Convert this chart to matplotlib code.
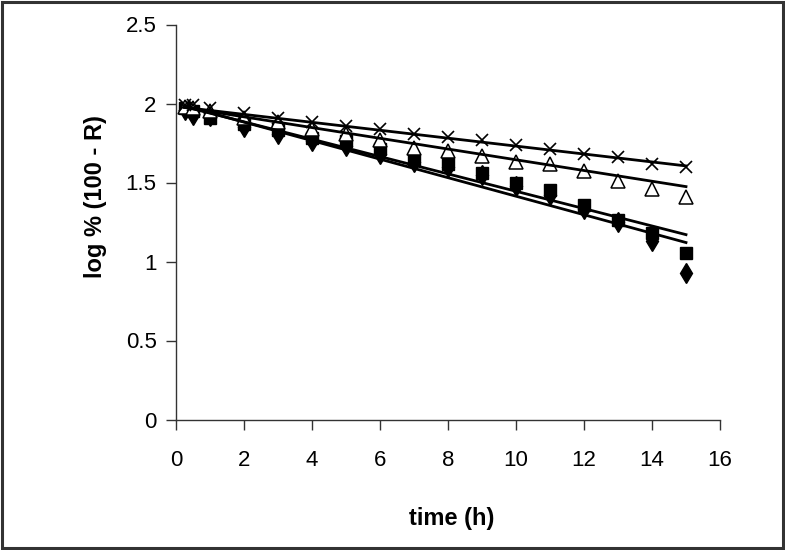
import numpy as np
import matplotlib
matplotlib.use("Agg")
import matplotlib.pyplot as plt
from matplotlib.patches import Rectangle

# ---- data ----
time_h = [0.25, 0.5, 1, 2, 3, 4, 5, 6, 7, 8, 9, 10, 11, 12, 13, 14, 15]
series_diamond = [1.96, 1.93, 1.92, 1.85, 1.81, 1.76, 1.73, 1.68, 1.63, 1.60, 1.55, 1.48, 1.42, 1.33, 1.25, 1.13, 0.93]
series_square = [1.97, 1.95, 1.91, 1.87, 1.83, 1.78, 1.76, 1.71, 1.64, 1.62, 1.56, 1.495, 1.45, 1.36, 1.26, 1.18, 1.055]
series_triangle = [1.98, 1.97, 1.95, 1.91, 1.88, 1.84, 1.81, 1.77, 1.72, 1.70, 1.67, 1.63, 1.62, 1.57, 1.51, 1.46, 1.41]
series_cross = [1.99, 1.99, 1.97, 1.94, 1.91, 1.88, 1.86, 1.84, 1.81, 1.79, 1.77, 1.74, 1.71, 1.68, 1.66, 1.62, 1.60]
# trendline values at t = 0.25 h and t = 15 h
trend_time = [0.25, 15]
trend_diamond = [1.985, 1.12]
trend_square = [1.98, 1.17]
trend_triangle = [1.975, 1.474]
trend_cross = [1.975, 1.605]
x_ticks = [0, 2, 4, 6, 8, 10, 12, 14, 16]
y_ticks = [0, 0.5, 1, 1.5, 2, 2.5]
y_tick_labels = ["0", "0.5", "1", "1.5", "2", "2.5"]
x_label = "time (h)"
y_label = "log % (100 - R)"

plt.rcParams["font.family"] = ["Liberation Sans", "DejaVu Sans"]

fig = plt.figure(figsize=(7.85, 5.5), dpi=100)
ax = fig.add_axes([176 / 785, 1 - 419.5 / 550, (720 - 176) / 785, (419.5 - 24.5) / 550])

styles = [
    (series_diamond, trend_diamond, dict(marker="d", markersize=10, mfc="black", mec="black", mew=1)),
    (series_square, trend_square, dict(marker="s", markersize=8.5, mfc="black", mec="black", mew=1)),
    (series_triangle, trend_triangle, dict(marker="^", markersize=9.5, mfc="white", mec="black", mew=1.1)),
    (series_cross, trend_cross, dict(marker="x", markersize=9, mec="black", mew=1.2)),
]
for vals, _, st in styles:
    ax.plot(time_h, vals, linestyle="none", color="black", zorder=3, **st)
for _, tr, _ in styles:
    ax.plot(trend_time, tr, color="black", lw=2.0, zorder=4)

ax.set_xlim(0, 16)
ax.set_ylim(0, 2.5)
ax.set_xticks(x_ticks)
ax.set_yticks(y_ticks)
ax.set_yticklabels(y_tick_labels)
for s in ["top", "right"]:
    ax.spines[s].set_visible(False)
for s in ["left", "bottom"]:
    ax.spines[s].set_color("#333333")
    ax.spines[s].set_linewidth(1.0)
ax.tick_params(axis="both", direction="out", length=7, width=1, color="#333333",
               labelsize=16, labelcolor="black")
ax.tick_params(axis="x", pad=15)
ax.tick_params(axis="y", pad=7)

ax.set_xlabel(x_label, fontsize=17, fontweight="bold")
ax.set_ylabel(y_label, fontsize=17, fontweight="bold")
ax.xaxis.set_label_coords(0.507, -0.222)
ax.yaxis.set_label_coords(-0.127, 0.565)

fig.patches.append(Rectangle((0.002, 0.003), 0.996, 0.994, transform=fig.transFigure,
                             fill=False, edgecolor="#333333", linewidth=2.2))

fig.savefig("out.png", dpi=100)
